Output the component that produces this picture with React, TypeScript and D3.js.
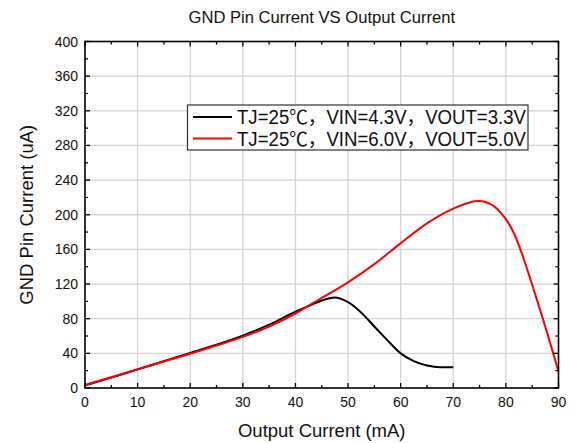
import React from "react";
import * as d3 from "d3";

const blackX = [0, 5, 10, 15, 20, 25, 30, 35, 40, 43, 45, 47.5, 50, 52.5, 55, 57.5, 60, 62.5, 65, 67.5, 70];
const blackY = [3, 12, 21.5, 31, 40.5, 50, 60.5, 73, 88, 96, 101, 104.5, 99, 87, 71, 55, 40, 31, 26, 24, 24];

const redX = [0, 5, 10, 15, 20, 25, 30, 35, 40, 45, 50, 55, 60, 65, 70, 72.5, 74, 75, 76, 77, 78, 79, 80, 81, 82, 83, 84, 85, 86, 87, 88, 89, 90];
const redY = [3.5, 12.5, 21.5, 30.5, 39.5, 49, 59, 71, 86, 104, 122, 143, 167, 190, 207, 213, 215.5, 216, 215, 212.5, 208.5, 202.5, 195, 185, 172, 156, 138, 119, 100, 80.5, 60.5, 40, 19];

const xTicks = [0, 10, 20, 30, 40, 50, 60, 70, 80, 90];
const yTicks = [0, 40, 80, 120, 160, 200, 240, 280, 320, 360, 400];

const legendLabels = ["TJ=25℃，VIN=4.3V，VOUT=3.3V", "TJ=25℃，VIN=6.0V，VOUT=5.0V"];
const seriesColors = ["#000000", "#ff0000"];

const title = "GND Pin Current VS Output Current";
const xLabel = "Output Current (mA)";
const yLabel = "GND Pin Current (uA)";

const W = 576;
const H = 443;
const M = { left: 85, right: 576 - 558.5, top: 41.5, bottom: 443 - 388 };
const FONT = "'Liberation Sans', Arial, 'Noto Sans CJK SC', sans-serif";

export default function App() {
  const x = d3.scaleLinear().domain([0, 90]).range([M.left, W - M.right]);
  const y = d3.scaleLinear().domain([0, 400]).range([H - M.bottom, M.top]);
  const x0 = x(0), x1 = x(90), y0 = y(0), y1 = y(400);

  const line = d3
    .line<[number, number]>()
    .x((d) => x(d[0]))
    .y((d) => y(d[1]))
    .curve(d3.curveMonotoneX);

  const series = [
    blackX.map((v, i) => [v, blackY[i]] as [number, number]),
    redX.map((v, i) => [v, redY[i]] as [number, number]),
  ];

  const xMinor = d3.range(5, 90, 10);
  const yMinor = d3.range(20, 400, 40);
  const major = 5;
  const minor = 3;

  return (
    <svg
      width={W}
      height={H}
      style={{ position: "absolute", left: 0, top: 0, background: "#fff" }}
      fontFamily={FONT}
    >
      <rect x={0} y={0} width={W} height={H} fill="#fff" />
      <g stroke="#d4d4d4" strokeWidth={1.3}>
        {xTicks.slice(1, -1).map((t) => (
          <line key={"gx" + t} x1={x(t)} x2={x(t)} y1={y1} y2={y0} />
        ))}
        {yTicks.slice(1, -1).map((t) => (
          <line key={"gy" + t} x1={x0} x2={x1} y1={y(t)} y2={y(t)} />
        ))}
      </g>
      {series.map((s, i) => (
        <path key={"s" + i} d={line(s) || ""} fill="none" stroke={seriesColors[i]} strokeWidth={2} />
      ))}
      <g stroke="#000" strokeWidth={1.3}>
        {xTicks.map((t) => (
          <g key={"xt" + t}>
            <line x1={x(t)} x2={x(t)} y1={y0} y2={y0 - major} />
            <line x1={x(t)} x2={x(t)} y1={y1} y2={y1 + major} />
          </g>
        ))}
        {xMinor.map((t) => (
          <g key={"xm" + t}>
            <line x1={x(t)} x2={x(t)} y1={y0} y2={y0 - minor} />
            <line x1={x(t)} x2={x(t)} y1={y1} y2={y1 + minor} />
          </g>
        ))}
        {yTicks.map((t) => (
          <g key={"yt" + t}>
            <line x1={x0} x2={x0 + major} y1={y(t)} y2={y(t)} />
            <line x1={x1} x2={x1 - major} y1={y(t)} y2={y(t)} />
          </g>
        ))}
        {yMinor.map((t) => (
          <g key={"ym" + t}>
            <line x1={x0} x2={x0 + minor} y1={y(t)} y2={y(t)} />
            <line x1={x1} x2={x1 - minor} y1={y(t)} y2={y(t)} />
          </g>
        ))}
      </g>
      <rect x={x0} y={y1} width={x1 - x0} height={y0 - y1} fill="none" stroke="#000" strokeWidth={1.6} />
      <g fontSize={14} fill="#111">
        {xTicks.map((t) => (
          <text key={"xl" + t} x={x(t)} y={y0 + 19} textAnchor="middle">
            {t}
          </text>
        ))}
        {yTicks.map((t) => (
          <text key={"yl" + t} x={x0 - 7} y={y(t) + 5} textAnchor="end">
            {t}
          </text>
        ))}
      </g>
      <text x={(x0 + x1) / 2} y={23} textAnchor="middle" fontSize={16.6} fill="#111">
        {title}
      </text>
      <text x={(x0 + x1) / 2} y={437} textAnchor="middle" fontSize={18.5} fill="#111">
        {xLabel}
      </text>
      <text
        transform={`translate(33, ${(y0 + y1) / 2}) rotate(-90)`}
        textAnchor="middle"
        fontSize={18.5}
        fill="#111"
      >
        {yLabel}
      </text>
      <g>
        <rect x={187.5} y={105} width={340.5} height={45} fill="#fff" stroke="#333" strokeWidth={1.2} />
        {legendLabels.map((lab, i) => (
          <g key={"lg" + i}>
            <line x1={193} x2={232} y1={117 + i * 21.5} y2={117 + i * 21.5} stroke={seriesColors[i]} strokeWidth={2} />
            <text
              x={237}
              y={124 + i * 22}
              fontSize={19.5}
              fill="#111"
              textLength={289}
              lengthAdjust="spacingAndGlyphs"
            >
              {lab}
            </text>
          </g>
        ))}
      </g>
    </svg>
  );
}
